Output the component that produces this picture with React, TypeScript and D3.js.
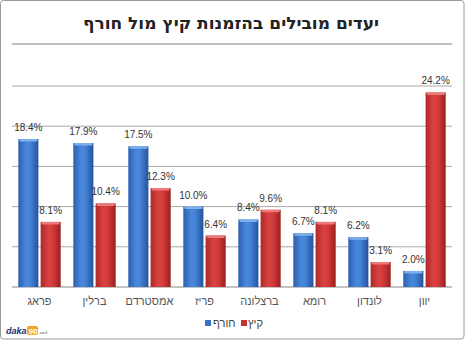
import React from "react";
import * as d3 from "d3";

const categories = ["פראג", "ברלין", "אמסטרדם", "פריז", "ברצלונה", "רומא", "לונדון", "יוון"];
const winter = [18.4, 17.9, 17.5, 10.0, 8.4, 6.7, 6.2, 2.0];
const summer = [8.1, 10.4, 12.3, 6.4, 9.6, 8.1, 3.1, 24.2];
const yTicks = [0, 5, 10, 15, 20, 25];
const seriesNames = ["חורף", "קיץ"];
const title = "יעדים מובילים בהזמנות קיץ מול חורף";

const W = 465, H = 340;
const plotL = 12, plotR = 452, plotT = 86, plotB = 287;

export default function App() {
  const x0 = d3.scaleBand<string>().domain(categories).range([plotL, plotR]).paddingInner(0).paddingOuter(0);
  const x1 = d3.scaleBand<string>().domain(["w", "s"]).range([6.3, x0.bandwidth() - 6.3]).paddingInner(0.1);
  const y = d3.scaleLinear().domain([0, 25]).range([plotB, plotT]);
  const font = "'Liberation Sans', Arial, sans-serif";
  const series = [
    { key: "w", values: winter, grad: "gBlue", cap: "#7fb0ec" },
    { key: "s", values: summer, grad: "gRed", cap: "#ec7a7a" },
  ];
  return (
    <svg width={W} height={H} style={{ position: "fixed", left: 0, top: 0, background: "#fff" }} fontFamily={font}>
      <defs>
        <linearGradient id="gBlue" x1="0" x2="1" y1="0" y2="0">
          <stop offset="0" stopColor="#2c5fb0" />
          <stop offset="0.4" stopColor="#4a88dc" />
          <stop offset="0.6" stopColor="#4583d6" />
          <stop offset="1" stopColor="#24529e" />
        </linearGradient>
        <linearGradient id="gRed" x1="0" x2="1" y1="0" y2="0">
          <stop offset="0" stopColor="#b02828" />
          <stop offset="0.4" stopColor="#da4242" />
          <stop offset="0.6" stopColor="#d43c3c" />
          <stop offset="1" stopColor="#9c2020" />
        </linearGradient>
      </defs>
      <rect x={0.5} y={0.5} width={W - 1.5} height={H - 1.5} fill="#fff" stroke="#9a9a9a" rx={3} />
      <text x={231} y={29} textAnchor="middle" fontSize={17} fontWeight="bold" fill="#222" direction="rtl" fontFamily="'DejaVu Sans', sans-serif">
        {title}
      </text>
      <line x1={12} x2={452} y1={44} y2={44} stroke="#aaa" strokeWidth={1.5} />
      {yTicks.map((t) => (
        <line key={t} x1={plotL} x2={plotR} y1={y(t)} y2={y(t)} stroke={t === 0 ? "#888" : "#a8a8a8"} strokeWidth={1} />
      ))}
      {categories.map((c, i) => (
        <g key={c} transform={`translate(${x0(c)},0)`}>
          {series.map((s) => {
            const bx = x1(s.key)!;
            const bw = x1.bandwidth();
            const v = s.values[i];
            const top = y(v);
            return (
              <g key={s.key}>
                <rect x={bx} y={top} width={bw} height={plotB - top} fill={`url(#${s.grad})`} />
                <rect x={bx + 1} y={top} width={bw - 2} height={2.5} fill={s.cap} rx={1} />
                <text x={bx + bw / 2} y={top - 8} textAnchor="middle" fontSize={10} fill="#333">
                  {v.toFixed(1) + "%"}
                </text>
              </g>
            );
          })}
          <text x={x0.bandwidth() / 2} y={305} textAnchor="middle" fontSize={11} fill="#555" direction="rtl">
            {c}
          </text>
        </g>
      ))}
      <g fontSize={11} fill="#444">
        <rect x={205} y={320} width={6} height={6} fill="#3a70c4" />
        <text x={213} y={327} fill="#444">{seriesNames[0]}</text>
        <rect x={241} y={320} width={6} height={6} fill="#c43434" />
        <text x={248} y={327} fill="#444">{seriesNames[1]}</text>
      </g>
      <g>
        <text x={6} y={334} fontSize={9} fontWeight="bold" fontStyle="italic" fill="#1c2f6e">daka</text>
        <rect x={27} y={326} width={11} height={9} rx={2} fill="#f3a531" />
        <text x={28.5} y={333.5} fontSize={8} fontWeight="bold" fill="#fff">90</text>
        <text x={39} y={334} fontSize={4} fill="#333">.co.il</text>
      </g>
    </svg>
  );
}
